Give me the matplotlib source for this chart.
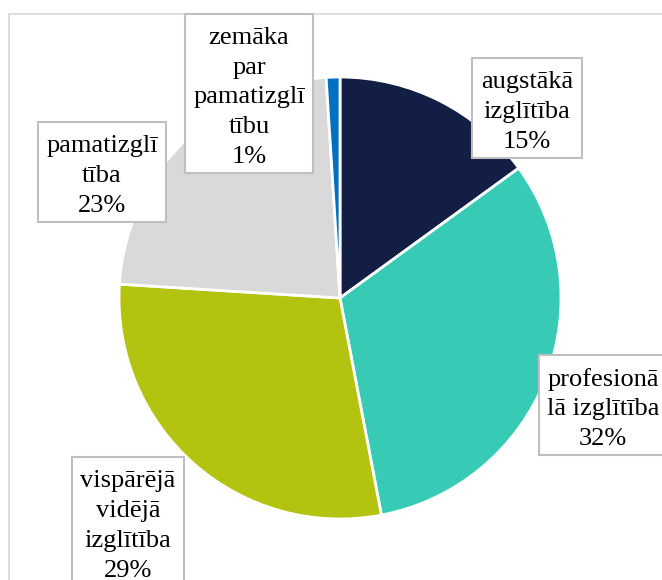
import matplotlib
matplotlib.use("Agg")
import matplotlib.pyplot as plt
from matplotlib.patches import Rectangle

# dati: izglītības līmeņu sadalījums
categories = ["augstākā izglītība", "profesionālā izglītība", "vispārējā vidējā izglītība",
              "pamatizglītība", "zemāka par pamatizglītību"]
label_texts = ["augstākā\nizglītība", "profesionā\nlā izglītība", "vispārējā\nvidējā\nizglītība",
               "pamatizglī\ntība", "zemāka\npar\npamatizglī\ntību"]
shares = [15, 32, 29, 23, 1]
colors = ["#131e45", "#37cbb6", "#b3c310", "#d9d9d9", "#0070c0"]

W, H = 662, 580
fig = plt.figure(figsize=(W / 100, H / 100), dpi=100)
ax = fig.add_axes([0, 0, 1, 1])

# rāmis ap diagrammu (labā un apakšējā mala ārpus attēla)
ax.add_patch(Rectangle((9, -20), W + 30, H - 14 + 20, fill=False,
                       edgecolor="#d9d9d9", linewidth=1.2))

cx, cy, r = 340, H - 298, 221
ax.pie(shares, colors=colors, startangle=90, counterclock=False,
       center=(cx, cy), radius=r, frame=True,
       wedgeprops=dict(edgecolor="white", linewidth=2))
ax.set_xlim(0, W)
ax.set_ylim(0, H)
ax.set_aspect("equal")
ax.axis("off")

# etiķešu rāmji (x0, x1, y0, y1 pikseļos no augšas)
boxes = [(472, 582, 58, 158), (539, 667, 355, 455), (72, 184, 457, 600),
         (38, 166, 122, 222), (185, 313, 14, 173)]
for txt, pct, (x0, x1, y0, y1) in zip(label_texts, shares, boxes):
    ax.add_patch(Rectangle((x0, H - y1), x1 - x0, y1 - y0, facecolor="white",
                           edgecolor="#bfbfbf", linewidth=1.5, zorder=3))
    if y1 > H:
        ty = y0 + 13
        va = "top"
    else:
        ty = (y0 + y1) / 2 + 4
        va = "center"
    ax.text((x0 + x1) / 2, H - ty, f"{txt}\n{pct}%", ha="center", va=va,
            family="Liberation Serif", fontsize=19, color="black",
            linespacing=1.47, zorder=4)

fig.savefig("out.png", dpi=100)
